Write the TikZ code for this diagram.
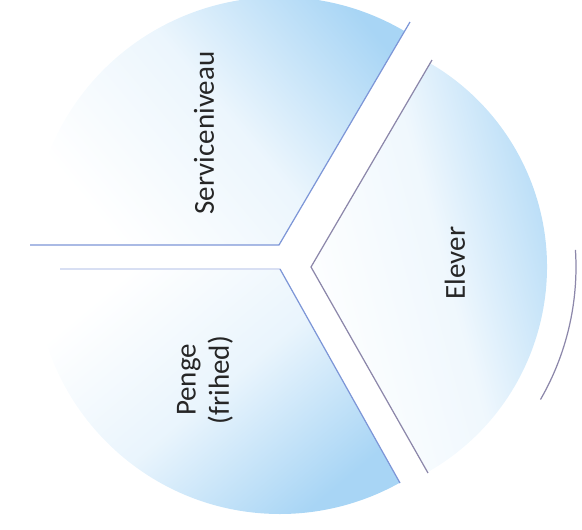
\documentclass[tikz,border=0pt]{standalone}
\usepackage{fontspec}
\setmainfont{Carlito}
\usepackage{xcolor}
\usepackage{tikz}
\usetikzlibrary{positioning}

\definecolor{pieblue}{RGB}{168,213,245}
\definecolor{edgeblue}{RGB}{125,150,215}
\definecolor{edgegrey}{RGB}{140,135,170}

\begin{document}
\begin{tikzpicture}[
    x=0.02cm, y=0.02cm,
    slicetext/.style={rotate=90, align=center, font=\fontsize{16.5}{19}\selectfont, text=black!85},
    cutline/.style={line width=0.7pt}
  ]
    \useasboundingbox (0,0) rectangle (582,529);

    % corners of the three slices
    \coordinate (sc) at (279,284);
    \coordinate (ec) at (311,262);
    \coordinate (pc) at (280,260);
    \coordinate (s1) at (30,284);
    \coordinate (s2) at (410,507);
    \coordinate (e1) at (432,469);
    \coordinate (e2) at (428,56);
    \coordinate (p0) at (60,260);
    \coordinate (p1) at (400,46);

    % slices
    \shade[top color=pieblue, bottom color=white, middle color=pieblue!22, shading angle=-50]
      (sc) -- ++(59.6:248) arc[start angle=59.6, end angle=180, radius=248] -- cycle;
    \shade[top color=pieblue, bottom color=white, middle color=pieblue!18, shading angle=-75]
      (ec) -- ++(-60.4:236) arc[start angle=-60.4, end angle=59.7, radius=236] -- cycle;
    \shade[top color=white, bottom color=pieblue, middle color=pieblue!25, shading angle=40]
      (pc) -- ++(180:245) arc[start angle=180, end angle=299.3, radius=245] -- cycle;

    % cut lines
    \draw[cutline, edgeblue] (s1) -- (sc) -- (s2);
    \draw[cutline, edgegrey] (e1) -- (ec) -- (e2);
    \draw[cutline, edgeblue!30] (p0) -- (pc);
    \draw[cutline, edgeblue] (pc) -- (p1);
    \draw[cutline, edgegrey] (ec) ++(3.7:265) arc[start angle=3.7, end angle=-30, radius=265];

    \node[slicetext] (serv)  at (204,396) {Serviceniveau};
    \node[slicetext] (elev)  at (455,266) {Elever};
    \node[slicetext] (penge) at (205,149) {Penge\\(frihed)};
\end{tikzpicture}
\end{document}
